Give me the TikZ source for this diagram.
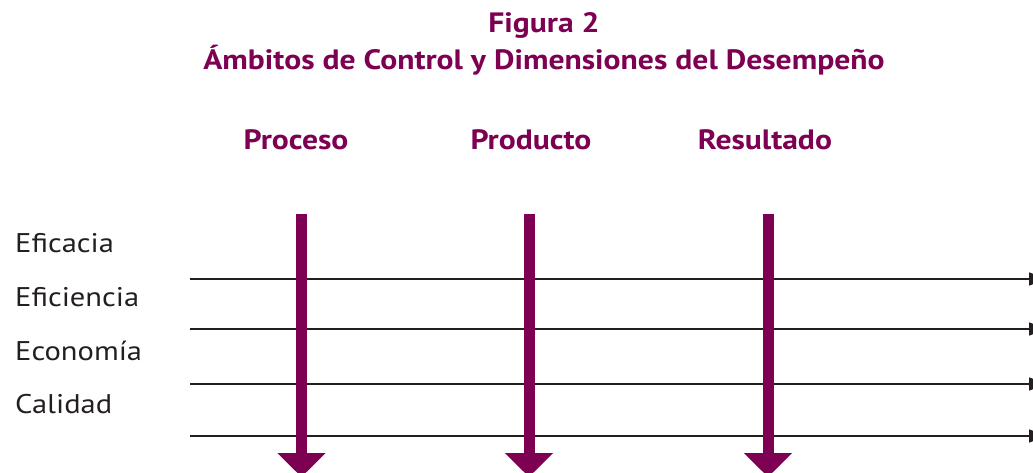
\documentclass[tikz,border=0pt]{standalone}
\usepackage{fontspec}
\setmainfont[FakeStretch=1.13]{PT Sans}
\usetikzlibrary{arrows.meta}
\definecolor{purp}{RGB}{125,0,82}
\definecolor{ink}{RGB}{35,31,32}
\begin{document}
\begin{tikzpicture}[x=1pt,y=-1pt,
  titletext/.style={font=\fontsize{28}{30}\selectfont\bfseries, text=purp, anchor=base, inner sep=0pt},
  headtext/.style={font=\fontsize{28}{30}\selectfont\bfseries, text=purp, anchor=base, inner sep=0pt},
  dimtext/.style={font=\fontsize{27}{29}\selectfont, text=ink, anchor=base west, inner sep=0pt},
  dimline/.style={draw=ink, line width=1.5pt, -{Triangle[width=13pt,length=18pt]}},
  ambarrow/.style={draw=purp, line width=11pt, -{Triangle[width=47pt,length=24pt]}}]
\useasboundingbox (0,0) rectangle (1033,473);
\node[titletext] (t1) at (544,33) {Figura 2};
\node[titletext] (t2) at (544,70) {Ámbitos de Control y Dimensiones del Desempeño};
\node[headtext] (h1) at (296,150) {Proceso};
\node[headtext] (h2) at (531,150) {Producto};
\node[headtext] (h3) at (765,150) {Resultado};
\node[dimtext] (d1) at (15,252) {Eficacia};
\node[dimtext] (d2) at (15,306) {Eficiencia};
\node[dimtext] (d3) at (15,360) {Economía};
\node[dimtext] (d4) at (15,413) {Calidad};
\foreach \i/\y in {1/279,2/329,3/384,4/436}{
  \coordinate (ls\i) at (190,\y);
  \coordinate (le\i) at (1047,\y);
  \draw[dimline] (ls\i) -- (le\i);
}
\foreach \i/\x in {1/301.5,2/529,3/768}{
  \coordinate (as\i) at (\x,214);
  \coordinate (ae\i) at (\x,477);
  \draw[ambarrow] (as\i) -- (ae\i);
}
\end{tikzpicture}
\end{document}
